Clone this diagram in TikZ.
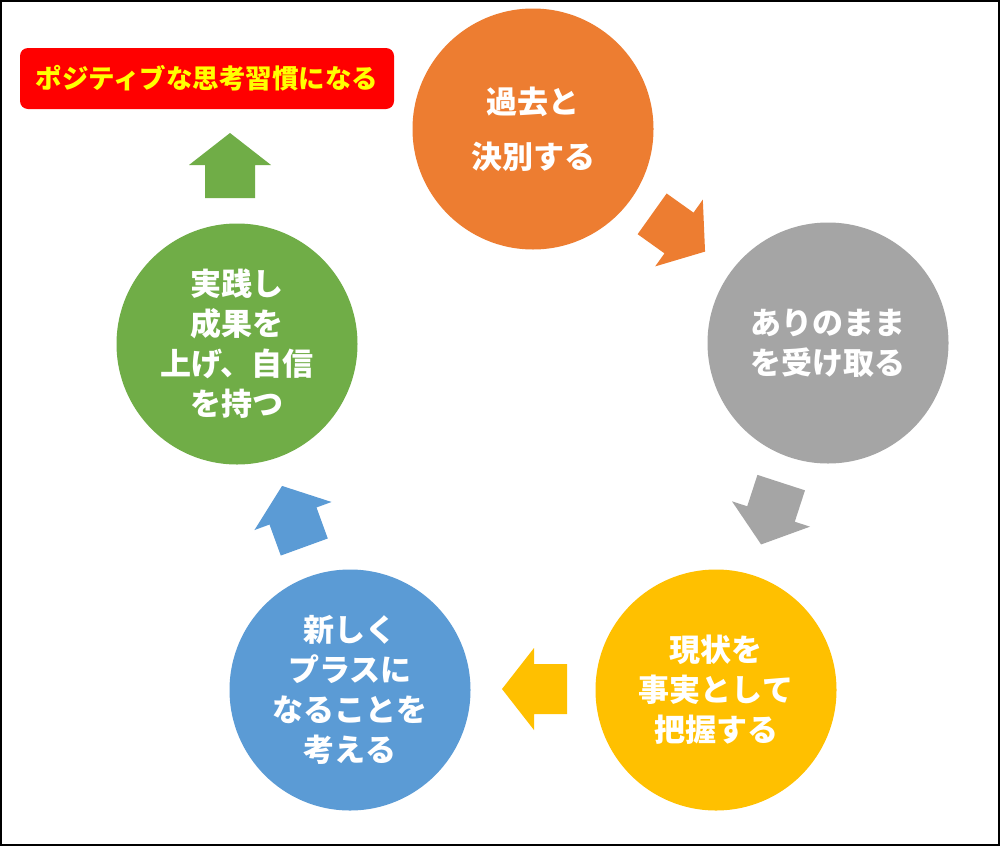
\documentclass[tikz,border=0pt]{standalone}
\usepackage{fontspec}
\newfontfamily\cjk{Noto Sans CJK JP}
\definecolor{corange}{HTML}{ED7D31}
\definecolor{cgray}{HTML}{A5A5A5}
\definecolor{cyellow}{HTML}{FFC000}
\definecolor{cblue}{HTML}{5B9BD5}
\definecolor{cgreen}{HTML}{70AD47}
\definecolor{cred}{HTML}{FF0000}
\definecolor{ctext}{HTML}{FFFF00}
\tikzset{
  stagecircle/.style={circle, minimum size=241pt, inner sep=0pt, align=center, text=white,
    font={\cjk\bfseries\fontsize{31pt}{40pt}\selectfont}},
  blockarrow/.pic={\fill (32,0) -- (0,41) -- (0,25) -- (-33,25) -- (-33,-25) -- (0,-25) -- (0,-41) -- cycle;},
  goalbox/.style={fill=cred, rounded corners=8pt, minimum width=374pt, minimum height=61pt,
    inner sep=0pt, text=ctext, font={\cjk\bfseries\fontsize{26.5pt}{30pt}\selectfont}}
}
\begin{document}
\begin{tikzpicture}[x=1pt,y=-1pt]
\useasboundingbox (0,0) rectangle (1000,846);
\fill[white] (0,0) rectangle (1000,846);
\draw[line width=2pt] (1,1) rectangle (998.5,845);
\node[stagecircle, fill=corange, font={\cjk\bfseries\fontsize{31pt}{55pt}\selectfont}] (past) at (533,129) {過去と\\決別する};
\node[stagecircle, fill=cgray] (accept) at (828,343) {ありのまま\\を受け取る};
\node[stagecircle, fill=cyellow] (fact) at (716,690) {現状を\\事実として\\把握する};
\node[stagecircle, fill=cblue] (plus) at (350,690) {新しく\\プラスに\\なることを\\考える};
\node[stagecircle, fill=cgreen] (act) at (237,344) {実践し\\成果を\\上げ、自信\\を持つ};
\node[goalbox] (goal) at (207,78.5) {ポジティブな思考習慣になる};
\pic[rotate=-35.5, fill=corange] at (679,233) {blockarrow};
\pic[rotate=-108, fill=cgray] at (771,514) {blockarrow};
\pic[rotate=180, fill=cyellow] at (534,689) {blockarrow};
\pic[rotate=110, fill=cblue] at (293,516) {blockarrow};
\pic[rotate=90, fill=cgreen] at (230,165) {blockarrow};
\end{tikzpicture}
\end{document}
